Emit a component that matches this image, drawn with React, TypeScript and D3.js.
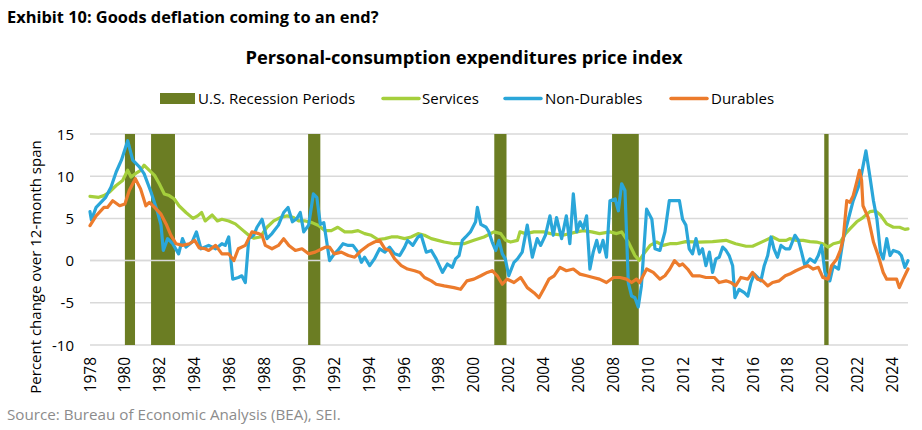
import React from "react";
import * as d3 from "d3";

const title = "Exhibit 10: Goods deflation coming to an end?";
const chartTitle = "Personal-consumption expenditures price index";
const yAxisTitle = "Percent change over 12-month span";
const sourceText = "Source: Bureau of Economic Analysis (BEA), SEI.";

const yearTicks = d3.range(1978, 2025, 2);
const valueTicks = [15, 10, 5, 0, -5, -10];

// recession periods [start, end] in decimal years
const recessions: [number, number][] = [
  [1980.0, 1980.58],
  [1981.5, 1982.87],
  [1990.5, 1991.2],
  [2001.17, 2001.87],
  [2007.92, 2009.45],
  [2020.08, 2020.33],
];

// [decimal year, % change]
const services: [number, number][] = [
  [1978.0, 7.6], [1978.5, 7.5], [1978.8, 7.7], [1979.1, 8.1], [1979.5, 8.9], [1979.87, 9.5],
  [1980.16, 10.7], [1980.35, 9.9], [1980.6, 10.3], [1980.9, 10.7], [1981.1, 11.3], [1981.4, 10.7],
  [1981.7, 10.1], [1981.97, 9.1], [1982.26, 7.9], [1982.54, 7.7], [1982.83, 7.3], [1983.1, 6.5],
  [1983.5, 5.7], [1983.9, 5.0], [1984.17, 5.3], [1984.4, 5.7], [1984.6, 4.7], [1985.0, 5.4],
  [1985.3, 4.7], [1985.56, 4.9], [1985.95, 4.7], [1986.33, 4.35], [1986.7, 3.7], [1987.1, 3.0],
  [1987.38, 2.65], [1987.76, 2.8], [1988.14, 3.95], [1988.53, 4.7], [1988.9, 5.1], [1989.3, 5.3],
  [1989.67, 5.1], [1989.96, 4.7], [1990.34, 4.7], [1990.72, 4.5], [1991.1, 4.15], [1991.45, 3.55],
  [1991.83, 3.55], [1992.2, 3.95], [1992.6, 3.4], [1993.0, 3.4], [1993.36, 3.55], [1993.74, 3.2],
  [1994.12, 3.0], [1994.5, 2.5], [1994.9, 2.6], [1995.27, 2.8], [1995.65, 2.8], [1996.03, 2.6],
  [1996.4, 2.8], [1996.8, 3.2], [1997.17, 3.0], [1997.56, 2.6], [1997.94, 2.4], [1998.3, 2.2],
  [1998.86, 2.0], [1999.43, 2.0], [2000.0, 2.4], [2000.58, 2.8], [2001.15, 3.4], [2001.54, 3.2],
  [2001.82, 2.4], [2002.1, 2.2], [2002.5, 2.4], [2002.64, 3.4], [2002.97, 3.2], [2003.44, 3.4],
  [2004.0, 3.4], [2004.4, 3.2], [2005.1, 3.0], [2005.9, 3.4], [2006.27, 3.55], [2006.75, 3.4],
  [2007.2, 3.2], [2007.8, 3.4], [2008.18, 3.2], [2008.47, 3.4], [2008.85, 2.2], [2009.23, 0.6],
  [2009.47, 0.0], [2009.8, 1.0], [2010.1, 1.8], [2010.47, 2.2], [2010.85, 1.8], [2011.23, 2.0],
  [2011.6, 2.0], [2012.15, 2.25], [2012.92, 2.2], [2013.68, 2.25], [2014.45, 2.4], [2015.0, 2.0],
  [2015.6, 1.7], [2015.97, 1.7], [2016.55, 2.25], [2017.12, 2.8], [2017.5, 2.4], [2017.9, 2.4],
  [2018.1, 2.6], [2018.5, 2.4], [2018.87, 2.4], [2019.26, 2.25], [2019.64, 2.2], [2020.0, 2.0],
  [2020.3, 1.6], [2020.6, 2.0], [2021.0, 2.2], [2021.3, 3.2], [2021.55, 3.75], [2021.94, 4.6],
  [2022.3, 5.1], [2022.7, 5.8], [2023.0, 5.9], [2023.3, 5.4], [2023.66, 4.35], [2024.04, 3.95],
  [2024.4, 3.95], [2024.7, 3.7], [2024.88, 3.75],
];

const nonDurables: [number, number][] = [
  [1978.0, 5.8], [1978.08, 4.8], [1978.35, 6.3], [1978.9, 7.5], [1979.2, 8.7], [1979.5, 10.5],
  [1979.8, 11.9], [1980.16, 14.2], [1980.45, 11.9], [1980.83, 11.1], [1981.1, 10.3], [1981.5, 8.1],
  [1981.88, 5.7], [1982.07, 4.2], [1982.2, 1.2], [1982.45, 2.6], [1982.74, 2.0], [1983.08, 0.8],
  [1983.3, 2.6], [1983.5, 1.6], [1983.85, 2.2], [1984.1, 3.4], [1984.36, 1.4], [1984.8, 1.8],
  [1985.2, 1.4], [1985.56, 2.0], [1985.75, 1.8], [1985.95, 2.8], [1986.18, -2.2], [1986.5, -2.0],
  [1986.7, -1.8], [1986.9, -2.6], [1987.1, 2.6], [1987.38, 3.0], [1987.57, 3.95], [1987.86, 4.9],
  [1988.14, 2.6], [1988.43, 3.2], [1988.8, 4.2], [1989.1, 5.7], [1989.35, 6.3], [1989.6, 4.6],
  [1989.86, 5.0], [1990.05, 5.7], [1990.25, 3.4], [1990.53, 4.2], [1990.8, 7.9], [1991.0, 7.5],
  [1991.2, 4.3], [1991.4, 4.5], [1991.73, 0.0], [1992.0, 0.8], [1992.2, 1.2], [1992.5, 2.0],
  [1992.8, 1.8], [1993.07, 1.8], [1993.36, 1.0], [1993.55, -0.2], [1993.74, 0.4], [1994.03, -0.6],
  [1994.3, 0.2], [1994.6, 1.4], [1994.9, 1.0], [1995.17, 1.6], [1995.46, 0.8], [1995.75, 0.6],
  [1996.03, 1.6], [1996.2, 2.4], [1996.5, 1.8], [1996.8, 2.8], [1996.98, 3.0], [1997.27, 1.0],
  [1997.56, 1.2], [1997.84, 0.2], [1998.2, -1.4], [1998.48, -0.4], [1998.76, -0.8], [1998.95, 0.2],
  [1999.15, 0.6], [1999.34, 2.4], [1999.53, 2.8], [1999.8, 3.4], [2000.1, 4.6], [2000.2, 6.3],
  [2000.4, 4.3], [2000.7, 3.95], [2000.86, 3.4], [2001.05, 2.2], [2001.25, 1.2], [2001.44, 2.4],
  [2001.63, 0.8], [2001.8, 0.2], [2002.0, -1.8], [2002.3, -0.2], [2002.5, 0.2], [2002.77, 1.0],
  [2003.06, 4.2], [2003.35, 0.4], [2003.63, 2.6], [2003.83, 1.8], [2004.1, 3.0], [2004.36, 5.3],
  [2004.55, 3.0], [2004.74, 5.1], [2005.03, 2.6], [2005.3, 5.3], [2005.5, 2.0], [2005.7, 7.9],
  [2005.9, 3.4], [2006.08, 4.6], [2006.27, 3.8], [2006.46, 5.3], [2006.65, -1.0], [2006.84, 1.0],
  [2007.04, 2.4], [2007.2, 1.0], [2007.4, 2.4], [2007.6, 0.4], [2007.8, 7.1], [2008.1, 7.3],
  [2008.28, 5.9], [2008.47, 9.1], [2008.66, 8.3], [2008.85, -2.6], [2009.04, -4.2], [2009.23, -4.4],
  [2009.42, -5.5], [2009.6, -3.0], [2009.9, 6.1], [2010.2, 4.9], [2010.38, 1.4], [2010.66, 1.2],
  [2010.95, 3.4], [2011.2, 7.1], [2011.4, 7.1], [2011.78, 7.1], [2011.96, 4.9], [2012.15, 4.2],
  [2012.34, 1.4], [2012.53, 0.8], [2012.73, 2.6], [2012.92, 0.8], [2013.1, 1.4], [2013.3, -0.6],
  [2013.5, 1.0], [2013.68, -1.4], [2013.87, 0.2], [2014.06, 0.4], [2014.26, 1.6], [2014.45, 1.2],
  [2014.63, 0.6], [2014.83, -0.6], [2014.96, -4.4], [2015.2, -3.4], [2015.5, -3.8], [2015.7, -4.2],
  [2015.88, -2.6], [2016.07, -1.6], [2016.26, -2.0], [2016.45, -2.4], [2016.64, -0.6], [2016.84, 0.6],
  [2017.03, 2.8], [2017.2, 1.4], [2017.4, 0.4], [2017.6, 1.8], [2017.85, 1.4], [2018.1, 1.4],
  [2018.4, 3.0], [2018.6, 2.4], [2018.78, 1.0], [2018.97, -0.6], [2019.26, 0.2], [2019.54, -0.2],
  [2019.74, 0.6], [2019.93, 1.8], [2020.12, -1.4], [2020.4, -2.4], [2020.6, -0.6], [2020.9, -1.0],
  [2021.17, 2.6], [2021.46, 4.9], [2021.74, 7.1], [2022.03, 8.7], [2022.22, 10.3], [2022.47, 13.0],
  [2022.7, 9.9], [2022.9, 7.1], [2023.1, 4.9], [2023.3, 1.0], [2023.46, 0.2], [2023.66, 2.6],
  [2023.85, 0.6], [2024.04, 1.2], [2024.33, 1.0], [2024.5, 0.6], [2024.7, -0.8], [2024.88, 0.0],
];

const durables: [number, number][] = [
  [1978.0, 4.15], [1978.35, 5.3], [1978.8, 6.3], [1979.0, 6.3], [1979.3, 7.1], [1979.7, 6.5],
  [1980.0, 6.7], [1980.25, 8.3], [1980.6, 9.7], [1980.9, 8.5], [1981.2, 6.5], [1981.4, 6.9],
  [1981.7, 6.3], [1982.07, 5.5], [1982.36, 4.35], [1982.64, 3.0], [1982.93, 2.0], [1983.3, 1.8],
  [1983.7, 2.0], [1984.0, 2.4], [1984.26, 1.5], [1984.6, 1.4], [1984.8, 1.2], [1985.2, 1.8],
  [1985.56, 0.8], [1985.95, 0.8], [1986.24, 0.0], [1986.5, 1.4], [1986.9, 1.8], [1987.28, 3.4],
  [1987.67, 3.2], [1987.86, 3.0], [1988.05, 1.8], [1988.43, 1.4], [1988.8, 1.8], [1989.1, 2.6],
  [1989.4, 1.8], [1989.77, 1.2], [1990.15, 1.4], [1990.53, 0.8], [1990.9, 1.0], [1991.3, 1.4],
  [1991.5, 1.6], [1991.73, 1.6], [1992.0, 0.8], [1992.4, 1.0], [1992.8, 0.6], [1993.17, 0.4],
  [1993.55, 1.2], [1993.93, 1.8], [1994.3, 2.2], [1994.6, 2.4], [1994.9, 1.4], [1995.17, 1.2],
  [1995.46, 0.2], [1995.84, -0.6], [1996.2, -1.0], [1996.6, -1.2], [1996.9, -1.4], [1997.17, -2.0],
  [1997.56, -2.4], [1997.84, -2.8], [1998.3, -3.0], [1998.86, -3.2], [1999.24, -3.4], [1999.6, -2.4],
  [2000.0, -2.2], [2000.4, -1.8], [2000.77, -1.4], [2001.05, -1.2], [2001.34, -1.8], [2001.63, -2.8],
  [2001.9, -2.2], [2002.3, -2.6], [2002.68, -2.0], [2003.06, -3.2], [2003.44, -3.8], [2003.73, -4.4],
  [2004.0, -3.4], [2004.3, -2.2], [2004.6, -1.8], [2004.93, -0.8], [2005.3, -1.2], [2005.7, -1.0],
  [2006.08, -1.6], [2006.46, -1.8], [2006.84, -2.0], [2007.2, -2.2], [2007.6, -2.6], [2008.0, -2.0],
  [2008.37, -2.0], [2008.75, -2.2], [2009.04, -2.6], [2009.32, -2.2], [2009.5, -2.6], [2009.9, -1.0],
  [2010.28, -1.4], [2010.66, -2.2], [2010.95, -1.8], [2011.23, -1.0], [2011.5, 0.0], [2011.78, -0.6],
  [2011.96, -0.4], [2012.25, -1.0], [2012.53, -1.8], [2012.92, -1.8], [2013.3, -2.0], [2013.78, -2.0],
  [2014.06, -2.6], [2014.45, -2.4], [2014.73, -2.6], [2015.0, -3.0], [2015.3, -2.0], [2015.7, -2.2],
  [2015.97, -1.4], [2016.26, -2.2], [2016.55, -2.4], [2016.84, -3.0], [2017.12, -2.6], [2017.5, -2.4],
  [2017.85, -1.8], [2018.1, -1.6], [2018.45, -1.2], [2018.87, -0.8], [2019.15, -0.6], [2019.45, -1.0],
  [2019.74, -0.8], [2020.0, -2.0], [2020.3, -2.2], [2020.5, -0.6], [2020.8, 0.2], [2021.0, 1.2],
  [2021.17, 2.6], [2021.37, 7.1], [2021.55, 6.9], [2021.74, 7.7], [2021.94, 9.3], [2022.1, 10.7],
  [2022.22, 9.5], [2022.3, 6.5], [2022.6, 5.1], [2022.9, 2.2], [2023.17, 0.6], [2023.46, -1.4],
  [2023.66, -2.2], [2024.04, -2.2], [2024.23, -2.2], [2024.38, -3.2], [2024.6, -2.2], [2024.88, -1.0],
];

const seriesNames = ["Services", "Non-Durables", "Durables"];
const recessionLabel = "U.S. Recession Periods";

const FONT = "'Open Sans', 'Noto Sans', sans-serif";
const C_REC = "#6b7d23";
const C_SERV = "#a5cf3c";
const C_NOND = "#2aa6d9";
const C_DUR = "#ec7b2c";

export default function App() {
  const W = 922, H = 430;
  const x = d3.scaleLinear().domain([1978, 2024.88]).range([90, 908]);
  const y = d3.scaleLinear().domain([-10, 15]).range([345, 134]);
  const line = d3
    .line<[number, number]>()
    .x((d) => x(d[0]))
    .y((d) => y(d[1]))
    .curve(d3.curveLinear);

  const seriesList = [
    { name: seriesNames[0], data: services, color: C_SERV },
    { name: seriesNames[1], data: nonDurables, color: C_NOND },
    { name: seriesNames[2], data: durables, color: C_DUR },
  ];

  const legendItems = [
    { x: 383, tx: 422, name: seriesNames[0], color: C_SERV },
    { x: 505, tx: 545, name: seriesNames[1], color: C_NOND },
    { x: 671, tx: 711, name: seriesNames[2], color: C_DUR },
  ];

  return (
    <svg
      width={W}
      height={H}
      viewBox={`0 0 ${W} ${H}`}
      style={{ position: "absolute", left: 0, top: 0, background: "#fff" }}
      fontFamily={FONT}
    >
      <rect x={0} y={0} width={W} height={H} fill="#fff" />
      <text x={7} y={23} fontSize={16.4} fontWeight={700} fill="#000">
        {title}
      </text>
      <text x={464} y={64} fontSize={18.3} fontWeight={700} fill="#000" textAnchor="middle">
        {chartTitle}
      </text>

      {/* legend */}
      <rect x={160} y={93} width={35} height={11} fill={C_REC} />
      <text x={198} y={104} fontSize={15} fill="#000">
        {recessionLabel}
      </text>
      {legendItems.map((l) => (
        <g key={l.name}>
          <line x1={l.x} x2={l.x + 36} y1={98.5} y2={98.5} stroke={l.color} strokeWidth={3.5} strokeLinecap="round" />
          <text x={l.tx} y={104} fontSize={15} fill="#000">
            {l.name}
          </text>
        </g>
      ))}

      {/* gridlines */}
      {valueTicks.map((v) => (
        <line key={v} x1={90} x2={908} y1={y(v)} y2={y(v)} stroke="#d9d9d9" strokeWidth={1.5} />
      ))}

      {/* recession bars */}
      {recessions.map(([s, e]) => (
        <rect key={s} x={x(s)} y={y(15)} width={x(e) - x(s)} height={y(-10) - y(15)} fill={C_REC} />
      ))}

      {/* zero axis line */}
      <line x1={90} x2={908} y1={y(0)} y2={y(0)} stroke="#d9d9d9" strokeWidth={1.5} />

      {/* series */}
      {seriesList.map((s) => (
        <path
          key={s.name}
          d={line(s.data) || ""}
          fill="none"
          stroke={s.color}
          strokeWidth={3.2}
          strokeLinejoin="round"
          strokeLinecap="round"
        />
      ))}

      {/* y axis labels */}
      {valueTicks.map((v) => (
        <text key={v} x={74} y={y(v) + 5.5} fontSize={15} textAnchor="end" fill="#000">
          {v}
        </text>
      ))}
      <text
        transform={`translate(41, 267) rotate(-90)`}
        fontSize={15}
        textAnchor="middle"
        fill="#000"
      >
        {yAxisTitle}
      </text>

      {/* x axis labels */}
      {yearTicks.map((yr) => (
        <text
          key={yr}
          transform={`translate(${x(yr) + 5.5}, 357) rotate(-90)`}
          fontSize={15.5}
          textAnchor="end"
          fill="#000"
        >
          {yr}
        </text>
      ))}

      <text x={7} y={420} fontSize={15.2} fill="#8c8c8c">
        {sourceText}
      </text>
    </svg>
  );
}
